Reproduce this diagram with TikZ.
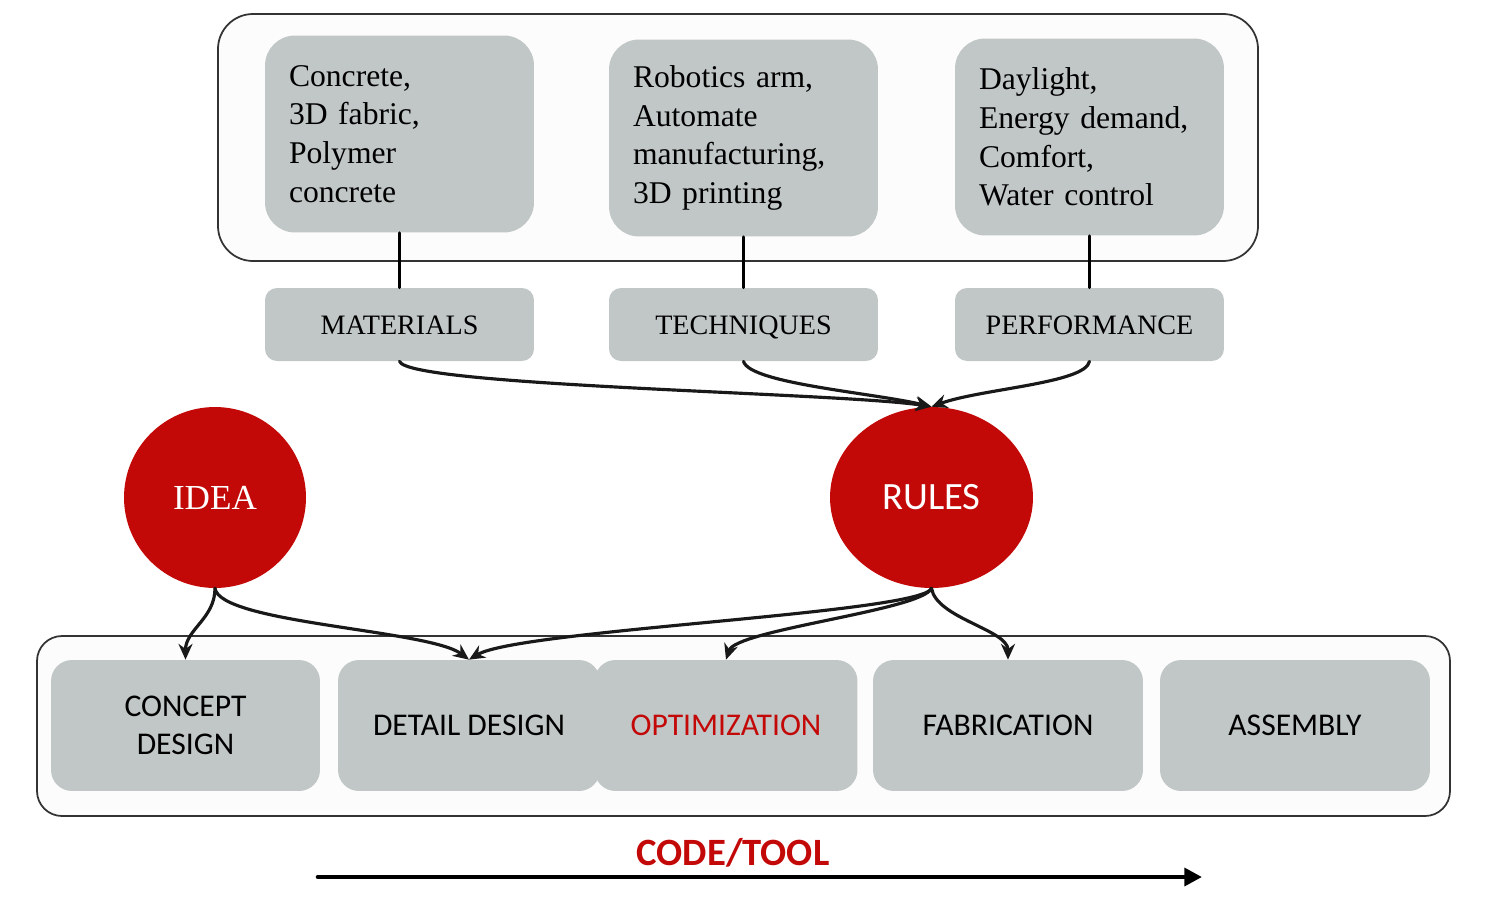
\documentclass[tikz,border=0pt]{standalone}
\usepackage{fontspec}
\setmainfont{Liberation Serif}
\setsansfont{Carlito}
\usetikzlibrary{arrows.meta,shapes.geometric}
\definecolor{boxgray}{RGB}{193,199,198}
\definecolor{hubred}{RGB}{195,8,8}

\begin{document}
\begin{tikzpicture}[x=0.02cm, y=-0.02cm, line join = round, line cap = round,
    frame/.style={draw=black!80, fill=black!1, line width=1pt},
    infobox/.style={fill=boxgray, rounded corners=0.6cm, inner xsep=0.48cm, text width=4.42cm, minimum height=3.94cm, align=left, font=\fontsize{18}{22}\selectfont},
    tagbox/.style={fill=boxgray, rounded corners=0.24cm, minimum width=5.38cm, minimum height=1.46cm, text height=14pt, text depth=3pt, font=\fontsize{16}{20}\selectfont},
    stepbox/.style={fill=boxgray, rounded corners=0.42cm, minimum height=2.62cm, align=center, font=\sffamily\fontsize{18}{22}\selectfont},
    hub/.style={ellipse, fill=hubred, text=white, minimum height=3.62cm},
    link/.style={-{Stealth[length=9pt, width=8pt]}, line width=1.8pt, black!90}]

    \useasboundingbox (0,0) rectangle (1491,900);

    % frames
    \draw[frame, rounded corners=0.7cm] (218,14) rectangle (1258,261);
    \draw[frame, rounded corners=0.5cm] (37,636) rectangle (1450,816);

    \node[infobox] (matlist) at (399.5,134) {Concrete,\\3D fabric,\\Polymer\\concrete};
    \node[infobox] (techlist) at (743.5,138) {Robotics arm,\\Automate\\manufacturing,\\3D printing};
    \node[infobox] (perflist) at (1089.5,137) {Daylight,\\Energy demand,\\Comfort,\\Water control};

    \node[tagbox] (materials) at (399.5,324.5) {MATERIALS};
    \node[tagbox] (techniques) at (743.5,324.5) {TECHNIQUES};
    \node[tagbox] (performance) at (1089.5,324.5) {PERFORMANCE};

    \node[hub, minimum width=3.64cm, font=\fontsize{20}{24}\selectfont] (idea) at (215,497.5) {IDEA};
    \node[hub, minimum width=4.06cm, font=\sffamily\fontsize{22}{26}\selectfont] (rules) at (931.5,497.5) {RULES};

    \node[stepbox, minimum width=5.38cm] (concept) at (185.5,725.5) {CONCEPT\\DESIGN};
    \node[stepbox, minimum width=5.26cm, text=hubred] (optim) at (726,725.5) {OPTIMIZATION};
    \node[stepbox, minimum width=5.24cm] (detail) at (469,725.5) {DETAIL DESIGN};
    \node[stepbox, minimum width=5.4cm] (fabric) at (1008,725.5) {FABRICATION};
    \node[stepbox, minimum width=5.4cm] (assembly) at (1295,725.5) {ASSEMBLY};

    \node[text=hubred, font=\sffamily\bfseries\fontsize{22}{26}\selectfont] (code) at (733,853) {CODE/TOOL};
    \coordinate (codestart) at (318,877);
    \coordinate (codeend) at (1202,877);

    \draw[line width=1.8pt] (matlist.south) -- (materials.north);
    \draw[line width=1.8pt] (techlist.south) -- (techniques.north);
    \draw[line width=1.8pt] (perflist.south) -- (performance.north);

    \draw[link] (materials.south) .. controls +(8,25) and +(-90,-14) .. (rules.north);
    \draw[link] (techniques.south) .. controls +(6,22) and +(-60,-14) .. (rules.north);
    \draw[link] (performance.south) .. controls +(-4,22) and +(50,-18) .. (rules.north);

    \draw[link] (idea.south) .. controls +(0,30) and +(0,-30) .. (concept.north);
    \draw[link] (idea.south) .. controls +(5,35) and +(-40,-30) .. (detail.north);
    \draw[link] (rules.south) .. controls +(-10,25) and +(50,-30) .. (detail.north);
    \draw[link] (rules.south) .. controls +(-10,22) and +(10,-30) .. (optim.north);
    \draw[link] (rules.south) .. controls +(5,30) and +(0,-30) .. (fabric.north);

    \draw[-{Triangle[length=10pt, width=10pt]}, line width=2.6pt] (codestart) -- (codeend);
\end{tikzpicture}
\end{document}
